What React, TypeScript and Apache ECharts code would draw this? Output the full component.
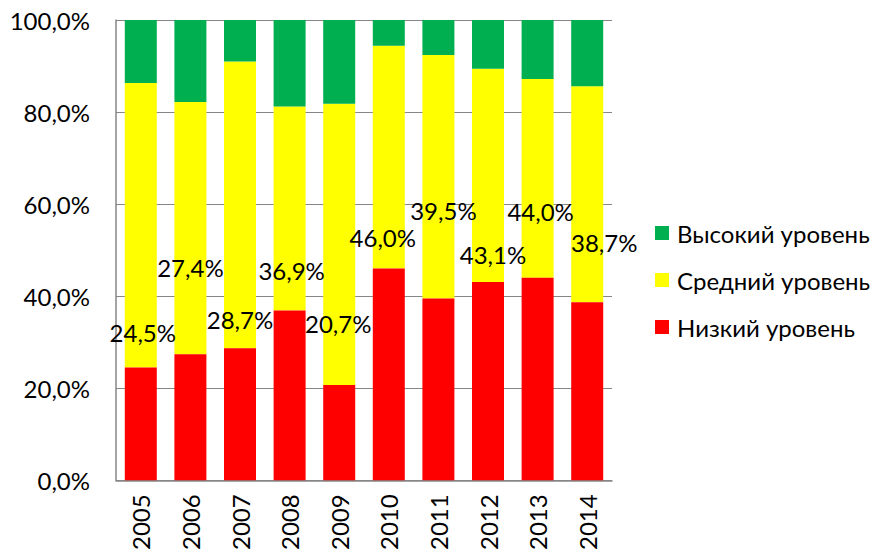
import React, { useEffect, useRef } from "react";
import * as echarts from "echarts";

const years = ["2005", "2006", "2007", "2008", "2009", "2010", "2011", "2012", "2013", "2014"];
const low = [24.5, 27.4, 28.7, 36.9, 20.7, 46.0, 39.5, 43.1, 44.0, 38.7];
const mid = [61.8, 54.8, 62.3, 44.3, 61.1, 48.4, 52.9, 46.3, 43.2, 46.9];
const high = [13.7, 17.8, 9.0, 18.8, 18.2, 5.6, 7.6, 10.6, 12.8, 14.4];
const yTicks = [0, 20, 40, 60, 80, 100];

// label offsets (px) relative to the top of the red segment
const labelOffsets: [number, number][] = [
  [2, -18], [0, -70], [0, -12], [2, -23], [-1, -45],
  [-6, -14], [5, -71], [5, -10], [3, -49], [17, -43],
];

const fmt = (v: number) => v.toFixed(1).replace(".", ",") + "%";
const FONT = "Lato";
const FS = 24;

export default function App() {
  const ref = useRef<HTMLDivElement>(null);
  useEffect(() => {
    const chart = echarts.init(ref.current!, undefined, { renderer: "svg" });
    const grey = "#868686";
    chart.setOption({
      animation: false,
      textStyle: { fontFamily: FONT },
      grid: { left: 116, right: 265, top: 20, bottom: 71 },
      legend: {
        orient: "vertical",
        left: 650,
        top: 216,
        itemWidth: 14,
        itemHeight: 14,
        itemGap: 23,
        icon: "rect",
        textStyle: { fontSize: FS, color: "#000", fontFamily: FONT, padding: [0, 0, 0, 3] },
        data: ["Высокий уровень", "Средний уровень", "Низкий уровень"],
      },
      xAxis: {
        type: "category",
        data: years,
        axisLine: { lineStyle: { color: grey, width: 1.5 } },
        axisTick: { show: false },
        axisLabel: { rotate: 90, fontSize: FS, color: "#000", margin: 14, fontFamily: FONT },
      },
      yAxis: {
        type: "value",
        min: yTicks[0],
        max: yTicks[yTicks.length - 1],
        interval: 20,
        axisLine: { show: true, lineStyle: { color: grey, width: 1.5 } },
        axisTick: { show: false },
        splitLine: { lineStyle: { color: grey, width: 1 } },
        axisLabel: {
          fontSize: FS,
          color: "#000",
          margin: 26,
          fontFamily: FONT,
          formatter: (v: number) => fmt(v),
        },
      },
      series: [
        {
          name: "Низкий уровень",
          type: "bar",
          stack: "s",
          barWidth: 32,
          itemStyle: { color: "#ff0000" },
          data: low.map((v, i) => ({
            value: v,
            label: {
              show: true,
              position: "top",
              offset: labelOffsets[i],
              formatter: fmt(v),
              fontSize: FS,
              color: "#000",
              fontFamily: FONT,
            },
          })),
          z: 3,
        },
        {
          name: "Средний уровень",
          type: "bar",
          stack: "s",
          barWidth: 32,
          itemStyle: { color: "#ffff00" },
          data: mid,
          z: 2,
        },
        {
          name: "Высокий уровень",
          type: "bar",
          stack: "s",
          barWidth: 32,
          itemStyle: { color: "#00b050" },
          data: high,
          z: 2,
        },
      ],
    });
    return () => chart.dispose();
  }, []);
  return (
    <div
      ref={ref}
      style={{ position: "fixed", left: 0, top: 0, width: 877, height: 553, background: "#fff" }}
    />
  );
}
